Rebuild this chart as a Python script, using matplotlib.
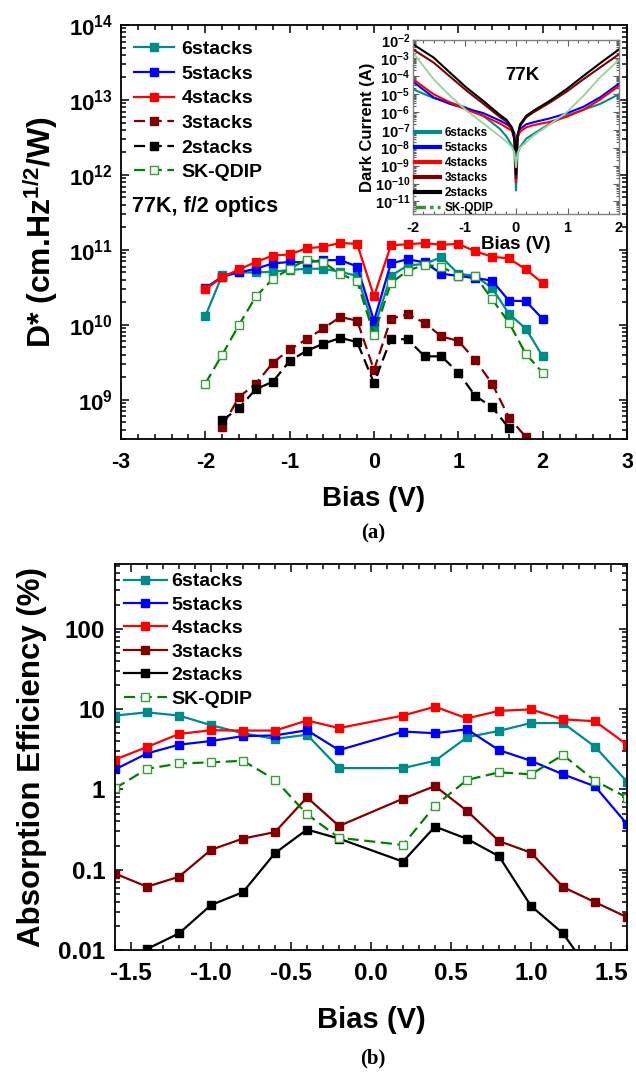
import numpy as np
import matplotlib
matplotlib.use("Agg")
import matplotlib.pyplot as plt
from matplotlib.ticker import (MultipleLocator, LogLocator, FixedLocator, FixedFormatter,
                               NullFormatter, FormatStrFormatter)
from matplotlib.lines import Line2D

plt.rcParams.update({
    "font.family": ["Liberation Sans", "DejaVu Sans"],
    "font.weight": "bold",
    "axes.labelweight": "bold",
    "mathtext.fontset": "custom",
    "mathtext.rm": "Liberation Sans:bold",
    "mathtext.bf": "Liberation Sans:bold",
    "mathtext.it": "Liberation Sans:bold:italic",
    "mathtext.sf": "Liberation Sans:bold",
    "axes.unicode_minus": False,
    "axes.linewidth": 1.3,
})

# ---------------- (a) specific detectivity ----------------
bias_a = [-2.0, -1.8, -1.6, -1.4, -1.2, -1.0, -0.8, -0.6, -0.4, -0.2, 0.0,
          0.2, 0.4, 0.6, 0.8, 1.0, 1.2, 1.4, 1.6, 1.8, 2.0]
bias_a_3 = bias_a[1:20]
bias_a_2 = bias_a[1:19]

dstar_6 = [1.3e10, 4.6e10, 5.0e10, 5.0e10, 5.1e10, 5.4e10, 5.6e10, 5.6e10, 5.1e10, 4.5e10, 9.0e9,
           4.5e10, 6.2e10, 6.5e10, 8.0e10, 4.8e10, 4.5e10, 3.1e10, 1.4e10, 8.9e9, 3.8e9]
dstar_5 = [3.1e10, 4.4e10, 5.0e10, 5.6e10, 6.6e10, 6.9e10, 6.8e10, 7.3e10, 7.3e10, 6.0e10, 1.13e10,
           6.6e10, 7.5e10, 6.8e10, 4.8e10, 4.5e10, 4.2e10, 3.9e10, 2.1e10, 2.07e10, 1.2e10]
dstar_4 = [3.0e10, 4.3e10, 5.5e10, 6.9e10, 8.4e10, 8.7e10, 1.05e11, 1.1e11, 1.24e11, 1.2e11, 2.4e10,
           1.15e11, 1.19e11, 1.23e11, 1.17e11, 1.2e11, 9.6e10, 8.1e10, 7.7e10, 5.5e10, 3.6e10]
dstar_3 = [4.4e8, 1.09e9, 1.65e9, 3.1e9, 4.7e9, 6.4e9, 9.0e9, 1.27e10, 1.14e10, 2.5e9,
           1.2e10, 1.39e10, 1.06e10, 7.0e9, 6.1e9, 3.4e9, 1.65e9, 5.8e8, 3.2e8]
dstar_2 = [5.3e8, 7.8e8, 1.39e9, 1.74e9, 3.3e9, 4.5e9, 5.6e9, 6.7e9, 5.9e9, 1.67e9,
           6.5e9, 6.4e9, 3.8e9, 3.8e9, 2.3e9, 1.13e9, 8.0e8, 4.2e8]
dstar_sk = [1.65e9, 4.0e9, 1.0e10, 2.4e10, 4.1e10, 5.6e10, 7.4e10, 6.8e10, 4.8e10, 3.8e10, 7.4e9,
            3.6e10, 5.3e10, 6.3e10, 6.0e10, 4.5e10, 4.5e10, 2.2e10, 1.07e10, 4.1e9, 2.3e9]

# ---------------- inset: dark current at 77 K ----------------
bias_dc = [-2.0, -1.6, -1.28, -0.96, -0.64, -0.31, -0.18, -0.08, -0.03, 0.0,
           0.03, 0.08, 0.2, 0.34, 0.66, 0.98, 1.31, 1.63, 2.0]
idark_6 = [1.8e-5, 5.8e-6, 3.3e-6, 1.7e-6, 6.0e-7, 1.1e-7, 4.0e-8, 1.3e-8, 5.5e-9, 4.1e-11,
           5.0e-9, 1.1e-8, 3.2e-8, 5.8e-8, 2.2e-7, 6.0e-7, 1.3e-6, 2.7e-6, 9.5e-6]
idark_5 = [4.7e-5, 6.3e-6, 2.7e-6, 1.5e-6, 8.5e-7, 3.2e-7, 2.0e-7, 1.3e-7, 6.3e-8, 1.3e-10,
           5.0e-8, 1.1e-7, 2.0e-7, 2.6e-7, 4.3e-7, 8.1e-7, 1.9e-6, 6.3e-6, 3.7e-5]
idark_4 = [6.5e-5, 9.5e-6, 3.3e-6, 1.3e-6, 6.0e-7, 2.2e-7, 1.3e-7, 8.7e-8, 4.0e-8, 1.2e-10,
           3.5e-8, 7.8e-8, 1.35e-7, 1.8e-7, 2.75e-7, 5.2e-7, 1.3e-6, 4.7e-6, 2.75e-5]
idark_3 = [3.0e-3, 5.5e-4, 9.1e-5, 1.5e-5, 2.9e-6, 5.0e-7, 2.8e-7, 1.0e-7, 2.5e-8, 2.0e-10,
           4.0e-8, 1.6e-7, 5.0e-7, 9.3e-7, 3.3e-6, 1.3e-5, 6.5e-5, 2.9e-4, 1.6e-3]
idark_2 = [5.8e-3, 1.05e-3, 1.5e-4, 2.2e-5, 4.1e-6, 6.6e-7, 3.5e-7, 1.35e-7, 3.2e-8, 3.2e-10,
           5.0e-8, 2.0e-7, 6.0e-7, 1.15e-6, 4.1e-6, 1.8e-5, 1.0e-4, 5.0e-4, 3.0e-3]
idark_sk = [2.0e-3, 6.5e-5, 7.8e-6, 1.15e-6, 2.3e-7, 4.2e-8, 2.1e-8, 1.05e-8, 5.5e-9, 8.1e-10,
            5.0e-9, 1.0e-8, 2.0e-8, 4.7e-8, 2.0e-7, 9.1e-7, 7.8e-6, 8.1e-5, 7.9e-4]

# ---------------- (b) absorption efficiency ----------------
bias_b = [-1.6, -1.4, -1.2, -1.0, -0.8, -0.6, -0.4, -0.2, 0.2, 0.4, 0.6, 0.8, 1.0, 1.2, 1.4, 1.6]
eff_6 = [8.3, 9.1, 8.3, 6.3, 5.0, 4.25, 4.8, 1.84, 1.84, 2.27, 4.45, 5.35, 6.7, 6.7, 3.4, 1.25]
eff_5 = [1.77, 2.8, 3.6, 4.0, 4.6, 4.7, 5.45, 3.08, 5.25, 5.0, 5.6, 3.08, 2.27, 1.54, 1.09, 0.37]
eff_4 = [2.35, 3.37, 4.9, 5.45, 5.4, 5.4, 7.2, 5.8, 8.3, 10.7, 7.65, 9.5, 9.9, 7.45, 7.05, 3.6]
eff_3 = [0.0895, 0.0614, 0.0817, 0.177, 0.244, 0.294, 0.794, 0.35, 0.766, 1.1, 0.54, 0.227,
         0.163, 0.0608, 0.0394, 0.0256]
eff_2 = [0.005, 0.0103, 0.0161, 0.0363, 0.0525, 0.161, 0.316, 0.244, 0.126, 0.344, 0.242, 0.147,
         0.0353, 0.0161, 0.0044, 0.002]
eff_sk = [1.03, 1.8, 2.1, 2.17, 2.27, 1.32, 0.49, 0.25, 0.203, 0.625, 1.31, 1.63, 1.54, 2.68,
          1.28, 0.79]

labels = ["6stacks", "5stacks", "4stacks", "3stacks", "2stacks", "SK-QDIP"]
colors = ["#008b8b", "#0000ff", "#ff0000", "#800000", "#000000", "#008000"]
sk_face = "white"
sk_edge = "#33a033"

W, H = 636, 1075
fig = plt.figure(figsize=(W / 100, H / 100), dpi=100)


def px_axes(left, top, right, bottom):
    return fig.add_axes([left / W, 1 - bottom / H, (right - left) / W, (bottom - top) / H])


def style_ticks(ax, xsize, ysize, xpad, ypad, major=6, minor=3.5):
    ax.tick_params(which="both", direction="in", top=True, right=True, width=1.1)
    ax.tick_params(which="major", length=major)
    ax.tick_params(which="minor", length=minor)
    ax.tick_params(axis="x", which="major", labelsize=xsize, pad=xpad)
    ax.tick_params(axis="y", which="major", labelsize=ysize, pad=ypad)


# ----- panel (a)
ax1 = px_axes(121, 25, 627, 439)
ax1.set_yscale("log")
ms = 6
ax1.plot(bias_a, dstar_6, "-s", color=colors[0], lw=1.6, ms=ms, label=labels[0])
ax1.plot(bias_a, dstar_5, "-s", color=colors[1], lw=1.6, ms=ms, label=labels[1])
ax1.plot(bias_a, dstar_4, "-s", color=colors[2], lw=1.6, ms=ms, label=labels[2])
ax1.plot(bias_a_3, dstar_3, "--s", color=colors[3], lw=1.6, ms=ms, dashes=(5, 2.5), label=labels[3])
ax1.plot(bias_a_2, dstar_2, "--s", color=colors[4], lw=1.6, ms=ms, dashes=(5, 2.5), label=labels[4])
ax1.plot(bias_a, dstar_sk, "--s", color=colors[5], lw=1.6, ms=ms, dashes=(5, 2.5),
         mfc=sk_face, mec=sk_edge, mew=1.0, label=labels[5])
ax1.set_xlim(-3, 3)
ax1.set_ylim(3.0e8, 1e14)
ax1.xaxis.set_major_locator(MultipleLocator(1))
ax1.xaxis.set_minor_locator(MultipleLocator(0.2))
ax1.yaxis.set_major_locator(LogLocator(base=10, numticks=20))
ax1.yaxis.set_minor_locator(LogLocator(base=10, subs=np.arange(2, 10), numticks=20))
ax1.yaxis.set_minor_formatter(NullFormatter())
style_ticks(ax1, 15.5, 16, 9, 6)
ax1.set_xlabel("Bias (V)", fontsize=20, labelpad=10)
ax1.set_ylabel(r"D* (cm.Hz$^{1/2}$/W)", fontsize=23, labelpad=6)
ax1.legend(loc="upper left", fontsize=14, frameon=False, handlelength=2.1, handletextpad=0.35,
           labelspacing=0.36, borderaxespad=0.25, bbox_to_anchor=(0.0, 0.993))
ax1.text(0.022, 0.562, "77K, f/2 optics", transform=ax1.transAxes, fontsize=15.5,
         fontweight="bold", va="center", ha="left")
fig.text(373 / W, 1 - 533 / H, "(a)", fontsize=15, fontweight="bold",
         family=["Liberation Serif", "DejaVu Serif"], ha="center", va="center")

# ----- inset: dark current
axi = px_axes(413, 40, 619, 214)
axi.set_yscale("log")
dc_series = [idark_6, idark_5, idark_4, idark_3, idark_2]
for vals, c in zip(dc_series, colors[:5]):
    axi.plot(bias_dc, vals, "-", color=c, lw=1.5)
axi.plot(bias_dc, idark_sk, "-", color="#9ed39e", lw=1.4)
axi.set_xlim(-2, 2)
axi.set_ylim(2e-12, 1e-2)
axi.xaxis.set_major_locator(MultipleLocator(1))
axi.xaxis.set_minor_locator(MultipleLocator(0.2))
axi.yaxis.set_major_locator(LogLocator(base=10, numticks=20))
axi.yaxis.set_minor_locator(LogLocator(base=10, subs=np.arange(2, 10), numticks=20))
axi.yaxis.set_minor_formatter(NullFormatter())
for sp in axi.spines.values():
    sp.set_color("#808080")
    sp.set_linewidth(1.0)
axi.tick_params(which="both", direction="in", top=True, right=True, color="#606060", width=0.8)
axi.tick_params(which="major", length=4, labelsize=10.5)
axi.tick_params(which="minor", length=2)
axi.tick_params(axis="x", which="major", pad=5)
axi.tick_params(axis="y", which="major", pad=2)
axi.set_xlabel("Bias (V)", fontsize=13.5, labelpad=1)
axi.set_ylabel("Dark Current (A)", fontsize=12, labelpad=0)
axi.text(0.12, 1e-4, "77K", fontsize=13.5, fontweight="bold", ha="center", va="center")
inset_handles = [Line2D([], [], color=c, lw=3) for c in colors[:5]]
inset_handles.append(Line2D([], [], color="#2a9a2a", lw=2.5, dashes=(3, 1.2, 1, 1.2)))
axi.legend(inset_handles, labels, loc="lower left", fontsize=8.5, frameon=False,
           handlelength=2.1, handletextpad=0.4, labelspacing=0.26, borderpad=0.0,
           borderaxespad=0.0, bbox_to_anchor=(0.01, 0.0))

# ----- panel (b)
ax2 = px_axes(115, 564, 627, 950)
ax2.set_yscale("log")
ms2 = 5.5
ax2.plot(bias_b, eff_6, "-s", color=colors[0], lw=1.6, ms=ms2, label=labels[0])
ax2.plot(bias_b, eff_5, "-s", color=colors[1], lw=1.6, ms=ms2, label=labels[1])
ax2.plot(bias_b, eff_4, "-s", color=colors[2], lw=1.6, ms=ms2, label=labels[2])
ax2.plot(bias_b, eff_3, "-s", color=colors[3], lw=1.6, ms=ms2, label=labels[3])
ax2.plot(bias_b, eff_2, "-s", color=colors[4], lw=1.6, ms=ms2, label=labels[4])
ax2.plot(bias_b, eff_sk, "--s", color=colors[5], lw=1.6, ms=ms2, dashes=(5, 2.5),
         mfc=sk_face, mec=sk_edge, mew=1.0, label=labels[5])
ax2.set_xlim(-1.6, 1.6)
ax2.set_ylim(0.01, 640)
ax2.xaxis.set_major_locator(MultipleLocator(0.5))
ax2.xaxis.set_minor_locator(MultipleLocator(0.1))
ax2.xaxis.set_major_formatter(FormatStrFormatter("%.1f"))
yt = [0.01, 0.1, 1, 10, 100]
ax2.yaxis.set_major_locator(FixedLocator(yt))
ax2.yaxis.set_major_formatter(FixedFormatter(["0.01", "0.1", "1", "10", "100"]))
ax2.yaxis.set_minor_locator(LogLocator(base=10, subs=np.arange(2, 10), numticks=20))
ax2.yaxis.set_minor_formatter(NullFormatter())
style_ticks(ax2, 17.5, 17.5, 9, 7)
ax2.set_xlabel("Bias (V)", fontsize=21, labelpad=15)
ax2.set_ylabel("Absorption Efficiency (%)", fontsize=22.5, labelpad=8)
ax2.legend(loc="upper left", fontsize=14, frameon=False, handlelength=2.2, handletextpad=0.25,
           labelspacing=0.3, borderaxespad=0.05)
fig.text(373 / W, 1 - 1058 / H, "(b)", fontsize=15, fontweight="bold",
         family=["Liberation Serif", "DejaVu Serif"], ha="center", va="center")

fig.savefig("out.png", dpi=100)
